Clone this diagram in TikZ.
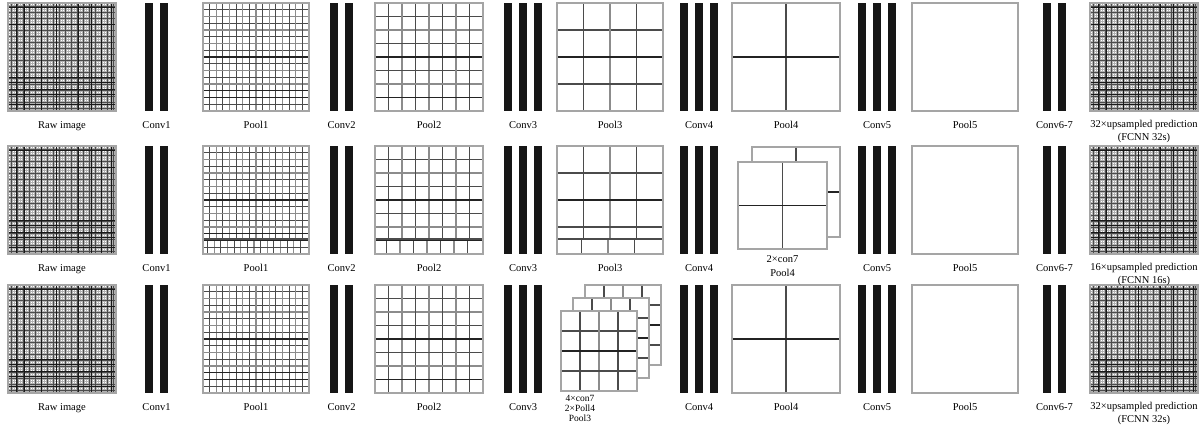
\documentclass[tikz,border=0pt]{standalone}
\usepackage{fontspec}
\setmainfont{Liberation Serif}
\usetikzlibrary{positioning}

\definecolor{barblack}{RGB}{22,22,22}
\definecolor{mapframe}{RGB}{165,165,165}
\definecolor{mapline}{RGB}{140,140,140}
\definecolor{mapmid}{RGB}{75,75,75}
\definecolor{mapdark}{RGB}{35,35,35}

\tikzstyle{fmap} = [rectangle, draw=mapframe, line width=1.4pt, inner sep=0pt, outer sep=0pt]
\tikzstyle{convbar} = [rectangle, fill=barblack, inner sep=0pt, outer sep=0pt,
minimum width=8pt, minimum height=108pt]
\tikzstyle{gridline} = [line width=1.1pt]
\tikzstyle{griddark} = [draw=mapdark, line width=1.3pt]
\tikzstyle{plaidlight} = [draw=gray!60, line width=0.7pt]
\tikzstyle{plaidmid} = [draw=gray!60!black, line width=0.7pt]
\tikzstyle{plaiddark} = [draw=black!90, line width=1pt]
\tikzstyle{lab} = [font=\fontsize{10.5}{12.5}\selectfont, inner sep=0pt,
text height=7.5pt, text depth=2.5pt]
\tikzstyle{lablines} = [font=\fontsize{10.5}{12.5}\selectfont, inner sep=0pt, align=center]

% grid inside a map: x0, y0, width, height, cells, dark rows, shift of bottom strip
\newcommand{\featgrid}[7]{%
  \pgfmathsetmacro{\cw}{#3/#5}%
  \pgfmathsetmacro{\ch}{#4/#5}%
  \pgfmathsetmacro{\cut}{0.86*#4}%
  \pgfmathtruncatemacro{\nl}{#5-1}%
  \foreach \k in {1,...,\nl}{%
    \ifodd\k\relax\def\gc{mapmid}\else\def\gc{mapline}\fi
    \draw[gridline, draw=\gc] ({#1+\k*\cw},{#2}) -- ({#1+\k*\cw},{#2+\cut});
    \draw[gridline, draw=\gc] ({#1+\k*\cw+(#7)},{#2+\cut}) -- ({#1+\k*\cw+(#7)},{#2+#4});
    \draw[gridline, draw=\gc] ({#1},{#2+\k*\ch}) -- ({#1+#3},{#2+\k*\ch});
  }%
  \foreach \d in {#6}{\draw[griddark] ({#1},{#2+\d*\ch}) -- ({#1+#3},{#2+\d*\ch});}%
  \ifdim #7pt=0pt\else\draw[griddark, draw=mapmid] ({#1},{#2+\cut}) -- ({#1+#3},{#2+\cut});\fi
}
% a whole map: name, x0, y0, width, height, cells, dark rows, shift
\newcommand{\featmap}[8]{%
  \fill[white] (#2,#3) rectangle ++(#4,#5);
  \featgrid{#2}{#3}{#4}{#5}{#6}{#7}{#8}%
  \node (#1) [fmap, minimum width=#4pt, minimum height=#5pt, anchor=north west] at (#2,#3) {};
}
% dense image texture, 108 square at x0, y0
\newcommand{\plaid}[2]{%
  \foreach \k in {1,...,53}{%
    \draw[plaidlight] ({#1+2*\k},{#2}) -- ++(0,108);
    \draw[plaidlight] ({#1},{#2+2*\k}) -- ++(108,0);
  }%
  \foreach \k in {3,9,...,105}{%
    \draw[plaidmid] ({#1+\k},{#2}) -- ++(0,108);
    \draw[plaidmid] ({#1},{#2+\k}) -- ++(108,0);
  }%
  \foreach \p in {8,16,33,48,70,83,93,103}{\draw[plaiddark] ({#1+\p},{#2}) -- ++(0,108);}%
  \foreach \p in {5,22,75,80,87,92,102}{\draw[plaiddark] ({#1},{#2+\p}) -- ++(108,0);}%
}

\begin{document}
\begin{tikzpicture}[x=1pt, y=-1pt]
    \useasboundingbox (0,0) rectangle (1203,430);

    % columns shared by the three rows
    \foreach \r/\y in {1/3, 2/146, 3/285}{
        \pgfmathsetmacro{\sh}{\r==2 ? -2 : 0}
        \plaid{8}{\y}
        \node (raw\r) [fmap, minimum size=108pt, anchor=north west] at (8,\y) {};
        \node (rawlab\r) [lab, below=9.5pt of raw\r] {Raw image};

        \node (conv1a\r) [convbar, anchor=north west] at (145,\y) {};
        \node (conv1b\r) [convbar, right=7pt of conv1a\r] {};
        \node (conv1lab\r) [lab, below=9.5pt of conv1a\r, xshift=7.5pt] {Conv1};

        \featmap{pool1\r}{203}{\y}{106}{108}{16}{8,13,14}{\sh}
        \node (pool1lab\r) [lab, below=9.5pt of pool1\r] {Pool1};

        \node (conv2a\r) [convbar, anchor=north west] at (330,\y) {};
        \node (conv2b\r) [convbar, right=7pt of conv2a\r] {};
        \node (conv2lab\r) [lab, below=9.5pt of conv2a\r, xshift=7.5pt] {Conv2};

        \featmap{pool2\r}{375}{\y}{108}{108}{8}{4,7}{\sh}
        \node (pool2lab\r) [lab, below=9.5pt of pool2\r] {Pool2};

        \node (conv3a\r) [convbar, anchor=north west] at (504,\y) {};
        \node (conv3b\r) [convbar, right=7pt of conv3a\r] {};
        \node (conv3c\r) [convbar, right=7pt of conv3b\r] {};
        \node (conv3lab\r) [lab, below=9.5pt of conv3b\r] {Conv3};

        \node (conv4a\r) [convbar, anchor=north west] at (680,\y) {};
        \node (conv4b\r) [convbar, right=7pt of conv4a\r] {};
        \node (conv4c\r) [convbar, right=7pt of conv4b\r] {};
        \node (conv4lab\r) [lab, below=9.5pt of conv4b\r] {Conv4};

        \node (conv5a\r) [convbar, anchor=north west] at (858,\y) {};
        \node (conv5b\r) [convbar, right=7pt of conv5a\r] {};
        \node (conv5c\r) [convbar, right=7pt of conv5b\r] {};
        \node (conv5lab\r) [lab, below=9.5pt of conv5b\r] {Conv5};

        \node (pool5\r) [fmap, minimum width=106pt, minimum height=108pt, anchor=north west] at (912,\y) {};
        \node (pool5lab\r) [lab, below=9.5pt of pool5\r] {Pool5};

        \node (conv67a\r) [convbar, anchor=north west] at (1043,\y) {};
        \node (conv67b\r) [convbar, right=7pt of conv67a\r] {};
        \node (conv67lab\r) [lab, below=9.5pt of conv67a\r, xshift=7.5pt] {Conv6-7};

        \plaid{1090}{\y}
        \node (pred\r) [fmap, minimum size=108pt, anchor=north west] at (1090,\y) {};
    }

    % plain pool3 and pool4
    \foreach \r/\y/\s in {1/3/0, 2/146/-2}{
        \featmap{pool3\r}{557}{\y}{106}{108}{4}{2}{\s}
        \node (pool3lab\r) [lab, below=9.5pt of pool3\r] {Pool3};
    }
    \foreach \r/\y in {1/3, 3/285}{
        \featmap{pool4\r}{732}{\y}{108}{108}{2}{1}{0}
        \node (pool4lab\r) [lab, below=9.5pt of pool4\r] {Pool4};
    }

    % stacked maps
    \featmap{pool4back}{752}{147}{88}{90}{2}{1}{0}
    \featmap{pool4front}{738}{162}{89}{87}{2}{1}{0}
    \node (pool4lab2) [lablines, font=\fontsize{10.5}{14}\selectfont, below=6pt of pool4front]
    {2×con7\\Pool4};

    \featmap{pool3back}{585}{285}{76}{80}{4}{2}{0}
    \featmap{pool3mid}{573}{298}{76}{80}{4}{2}{0}
    \featmap{pool3front}{561}{311}{76}{80}{4}{2}{0}
    \node (pool3lab3) [lablines, font=\fontsize{9.5}{10}\selectfont, below=4pt of pool3front, xshift=-19pt]
    {4×con7\\2×Poll4\\Pool3};

    % prediction labels
    \node (predlab1) [lablines, below=9.5pt of pred1] {32×upsampled prediction\\(FCNN 32s)};
    \node (predlab2) [lablines, below=9.5pt of pred2] {16×upsampled prediction\\(FCNN 16s)};
    \node (predlab3) [lablines, below=9.5pt of pred3] {32×upsampled prediction\\(FCNN 32s)};
\end{tikzpicture}
\end{document}
